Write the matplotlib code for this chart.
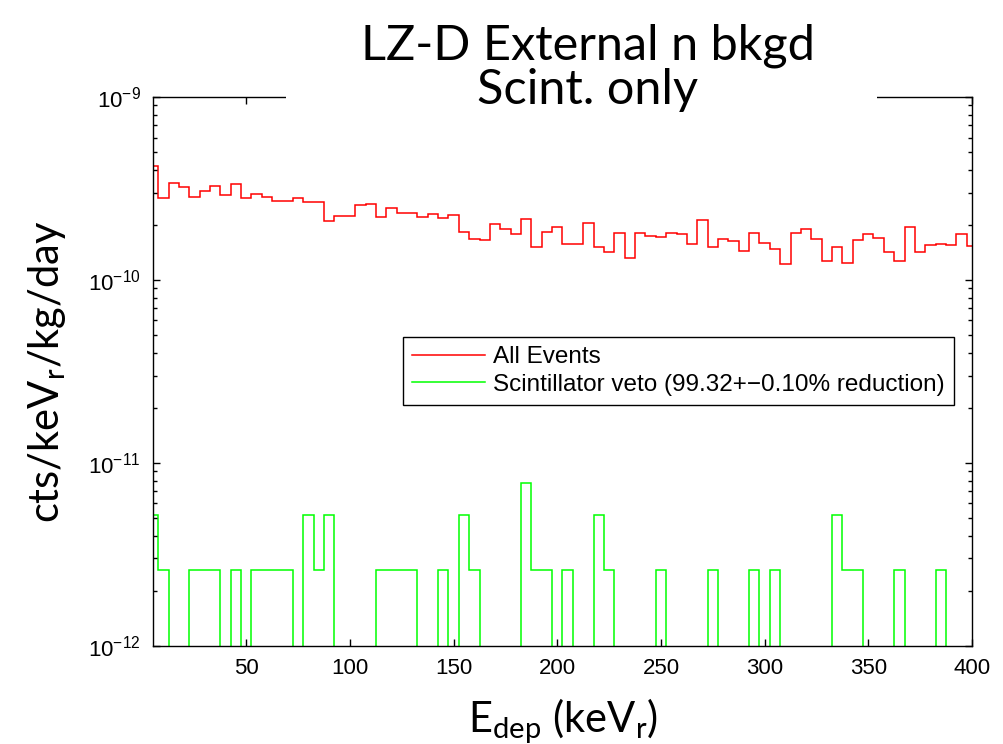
import matplotlib
matplotlib.use("Agg")
import matplotlib.pyplot as plt
from matplotlib.patches import Rectangle
import numpy as np

# 5 keV bins, centres 5..400 keV
bin_edges = np.arange(2.5, 405, 5)

# all events, units of 1e-10 cts/keVr/kg/day
all_events = np.array([
    4.21, 2.79, 3.40, 3.23, 2.84, 3.07, 3.26, 2.90, 3.33, 2.79,
    2.94, 2.85, 2.69, 2.71, 2.81, 2.67, 2.67, 2.10, 2.23, 2.24,
    2.56, 2.59, 2.20, 2.46, 2.31, 2.31, 2.22, 2.28, 2.17, 2.26,
    1.83, 1.68, 1.65, 2.02, 1.89, 1.79, 2.14, 1.51, 1.83, 1.95,
    1.58, 1.58, 2.06, 1.52, 1.43, 1.81, 1.32, 1.80, 1.73, 1.71,
    1.81, 1.79, 1.58, 2.12, 1.51, 1.68, 1.63, 1.44, 1.81, 1.59,
    1.48, 1.22, 1.81, 1.91, 1.68, 1.27, 1.52, 1.24, 1.65, 1.79,
    1.70, 1.42, 1.27, 1.94, 1.42, 1.55, 1.58, 1.56, 1.79, 1.53,
]) * 1e-10

# after scintillator veto, units of 1e-12 cts/keVr/kg/day
scint_veto = np.array([
    5.2, 2.6, 0, 0, 2.6, 2.6, 2.6, 0, 2.6, 0,
    2.6, 2.6, 2.6, 2.6, 0, 5.2, 2.6, 5.2, 0, 0,
    0, 0, 2.6, 2.6, 2.6, 2.6, 0, 0, 2.6, 0,
    5.2, 2.6, 0, 0, 0, 0, 7.8, 2.6, 2.6, 0,
    2.6, 0, 0, 5.2, 2.6, 0, 0, 0, 0, 2.6,
    0, 0, 0, 0, 2.6, 0, 0, 0, 2.6, 0,
    2.6, 0, 0, 0, 0, 0, 5.2, 2.6, 2.6, 0,
    0, 0, 2.6, 0, 0, 0, 2.6, 0, 0, 0,
]) * 1e-12

legend_labels = ["All Events", "Scintillator veto (99.32+\u22120.10% reduction)"]
y_exponents = [-12, -11, -10, -9]
x_ticks = [50, 100, 150, 200, 250, 300, 350, 400]

tick_font = "Liberation Sans"
label_font = "Lato"

fig = plt.figure(figsize=(10.04, 7.44), dpi=100)
ax = fig.add_axes([0.1524, 0.1321, 0.8157, 0.7375])

ax.stairs(all_events, bin_edges, baseline=None, color=(1, 0, 0), lw=1.1, label=legend_labels[0])
ax.stairs(scint_veto, bin_edges, baseline=None, color=(0, 1, 0), lw=1.1, label=legend_labels[1])

ax.set_yscale("log", nonpositive="clip")
ax.set_xlim(5, 400)
ax.set_ylim(1e-12, 1e-9)

ax.set_xticks(x_ticks)
ax.set_xticklabels([str(t) for t in x_ticks], fontsize=16, family=tick_font)
ax.set_yticks([10.0 ** e for e in y_exponents])
ax.set_yticklabels([r"$\mathregular{10^{%d}}$" % e for e in y_exponents],
                   fontsize=16, family=tick_font)
ax.yaxis.set_minor_locator(matplotlib.ticker.LogLocator(subs=np.arange(2, 10)))
ax.yaxis.set_minor_formatter(matplotlib.ticker.NullFormatter())

ax.tick_params(which="both", direction="in", top=True, right=True, width=1.0)
ax.tick_params(which="major", length=5, pad=9)
ax.tick_params(which="minor", length=3)
for s in ax.spines.values():
    s.set_linewidth(1.0)

ax.set_xlabel(r"E$\mathregular{_{dep}}$ (keV$\mathregular{_r}$)", fontsize=30,
              family=label_font, labelpad=12)
ax.set_ylabel(r"cts/keV$\mathregular{_r}$/kg/day", fontsize=30,
              family=label_font, labelpad=14)

leg = ax.legend(loc="upper left", bbox_to_anchor=(0.305, 0.5626), borderaxespad=0,
                prop={"family": tick_font, "size": 17.5}, fancybox=False,
                edgecolor="black", framealpha=1, handlelength=3.0,
                handletextpad=0.33, labelspacing=0.22, borderpad=0.38)
leg.get_frame().set_linewidth(1.0)

# white strip hiding the top spine behind the title, as in the original
fig.patches.append(Rectangle((286 / 1004, 1 - 108 / 744), 591 / 1004, 20 / 744,
                             transform=fig.transFigure, facecolor="white",
                             edgecolor="none", zorder=5))
fig.text(588 / 1004, 1 - 68 / 744, "LZ-D External n bkgd\nScint. only", ha="center",
         va="center", fontsize=35, family=label_font, linespacing=1.0, zorder=6)

fig.savefig("out.png", dpi=100)
